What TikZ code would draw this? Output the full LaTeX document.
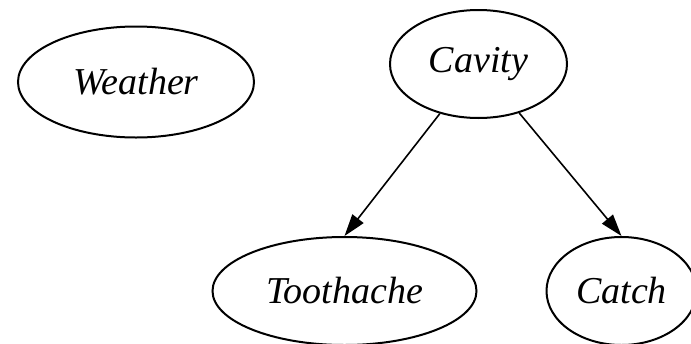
\documentclass[tikz,border=0pt]{standalone}
\usepackage{fontspec}
\setmainfont{Liberation Serif}
\usetikzlibrary{positioning,arrows.meta,shapes.geometric}

\begin{document}
\begin{tikzpicture}[
    x=0.5pt, y=-0.5pt,
    var/.style={ellipse, draw=black, line width=1pt, inner sep=0pt, minimum height=54pt,
      font=\fontsize{19}{22}\selectfont\itshape},
    link/.style={-{Triangle[length=11pt,width=7pt]}, line width=0.8pt}
]
  \useasboundingbox (0,0) rectangle (691,343);

  \node[var, minimum width=118pt, minimum height=55.5pt] (weather) at (136,82) {Weather};
  \node[var, minimum width=88.5pt] (cavity) [right=67pt of weather, yshift=9pt] {Cavity};
  \node[var, minimum width=132pt] (toothache) [below=58.5pt of cavity, xshift=-67pt] {Toothache};
  \node[var, minimum width=75pt] (catch) [right=34pt of toothache] {Catch};

  \draw[link] (cavity) -- (toothache.north);
  \draw[link] (cavity) -- (catch.north);
\end{tikzpicture}
\end{document}
